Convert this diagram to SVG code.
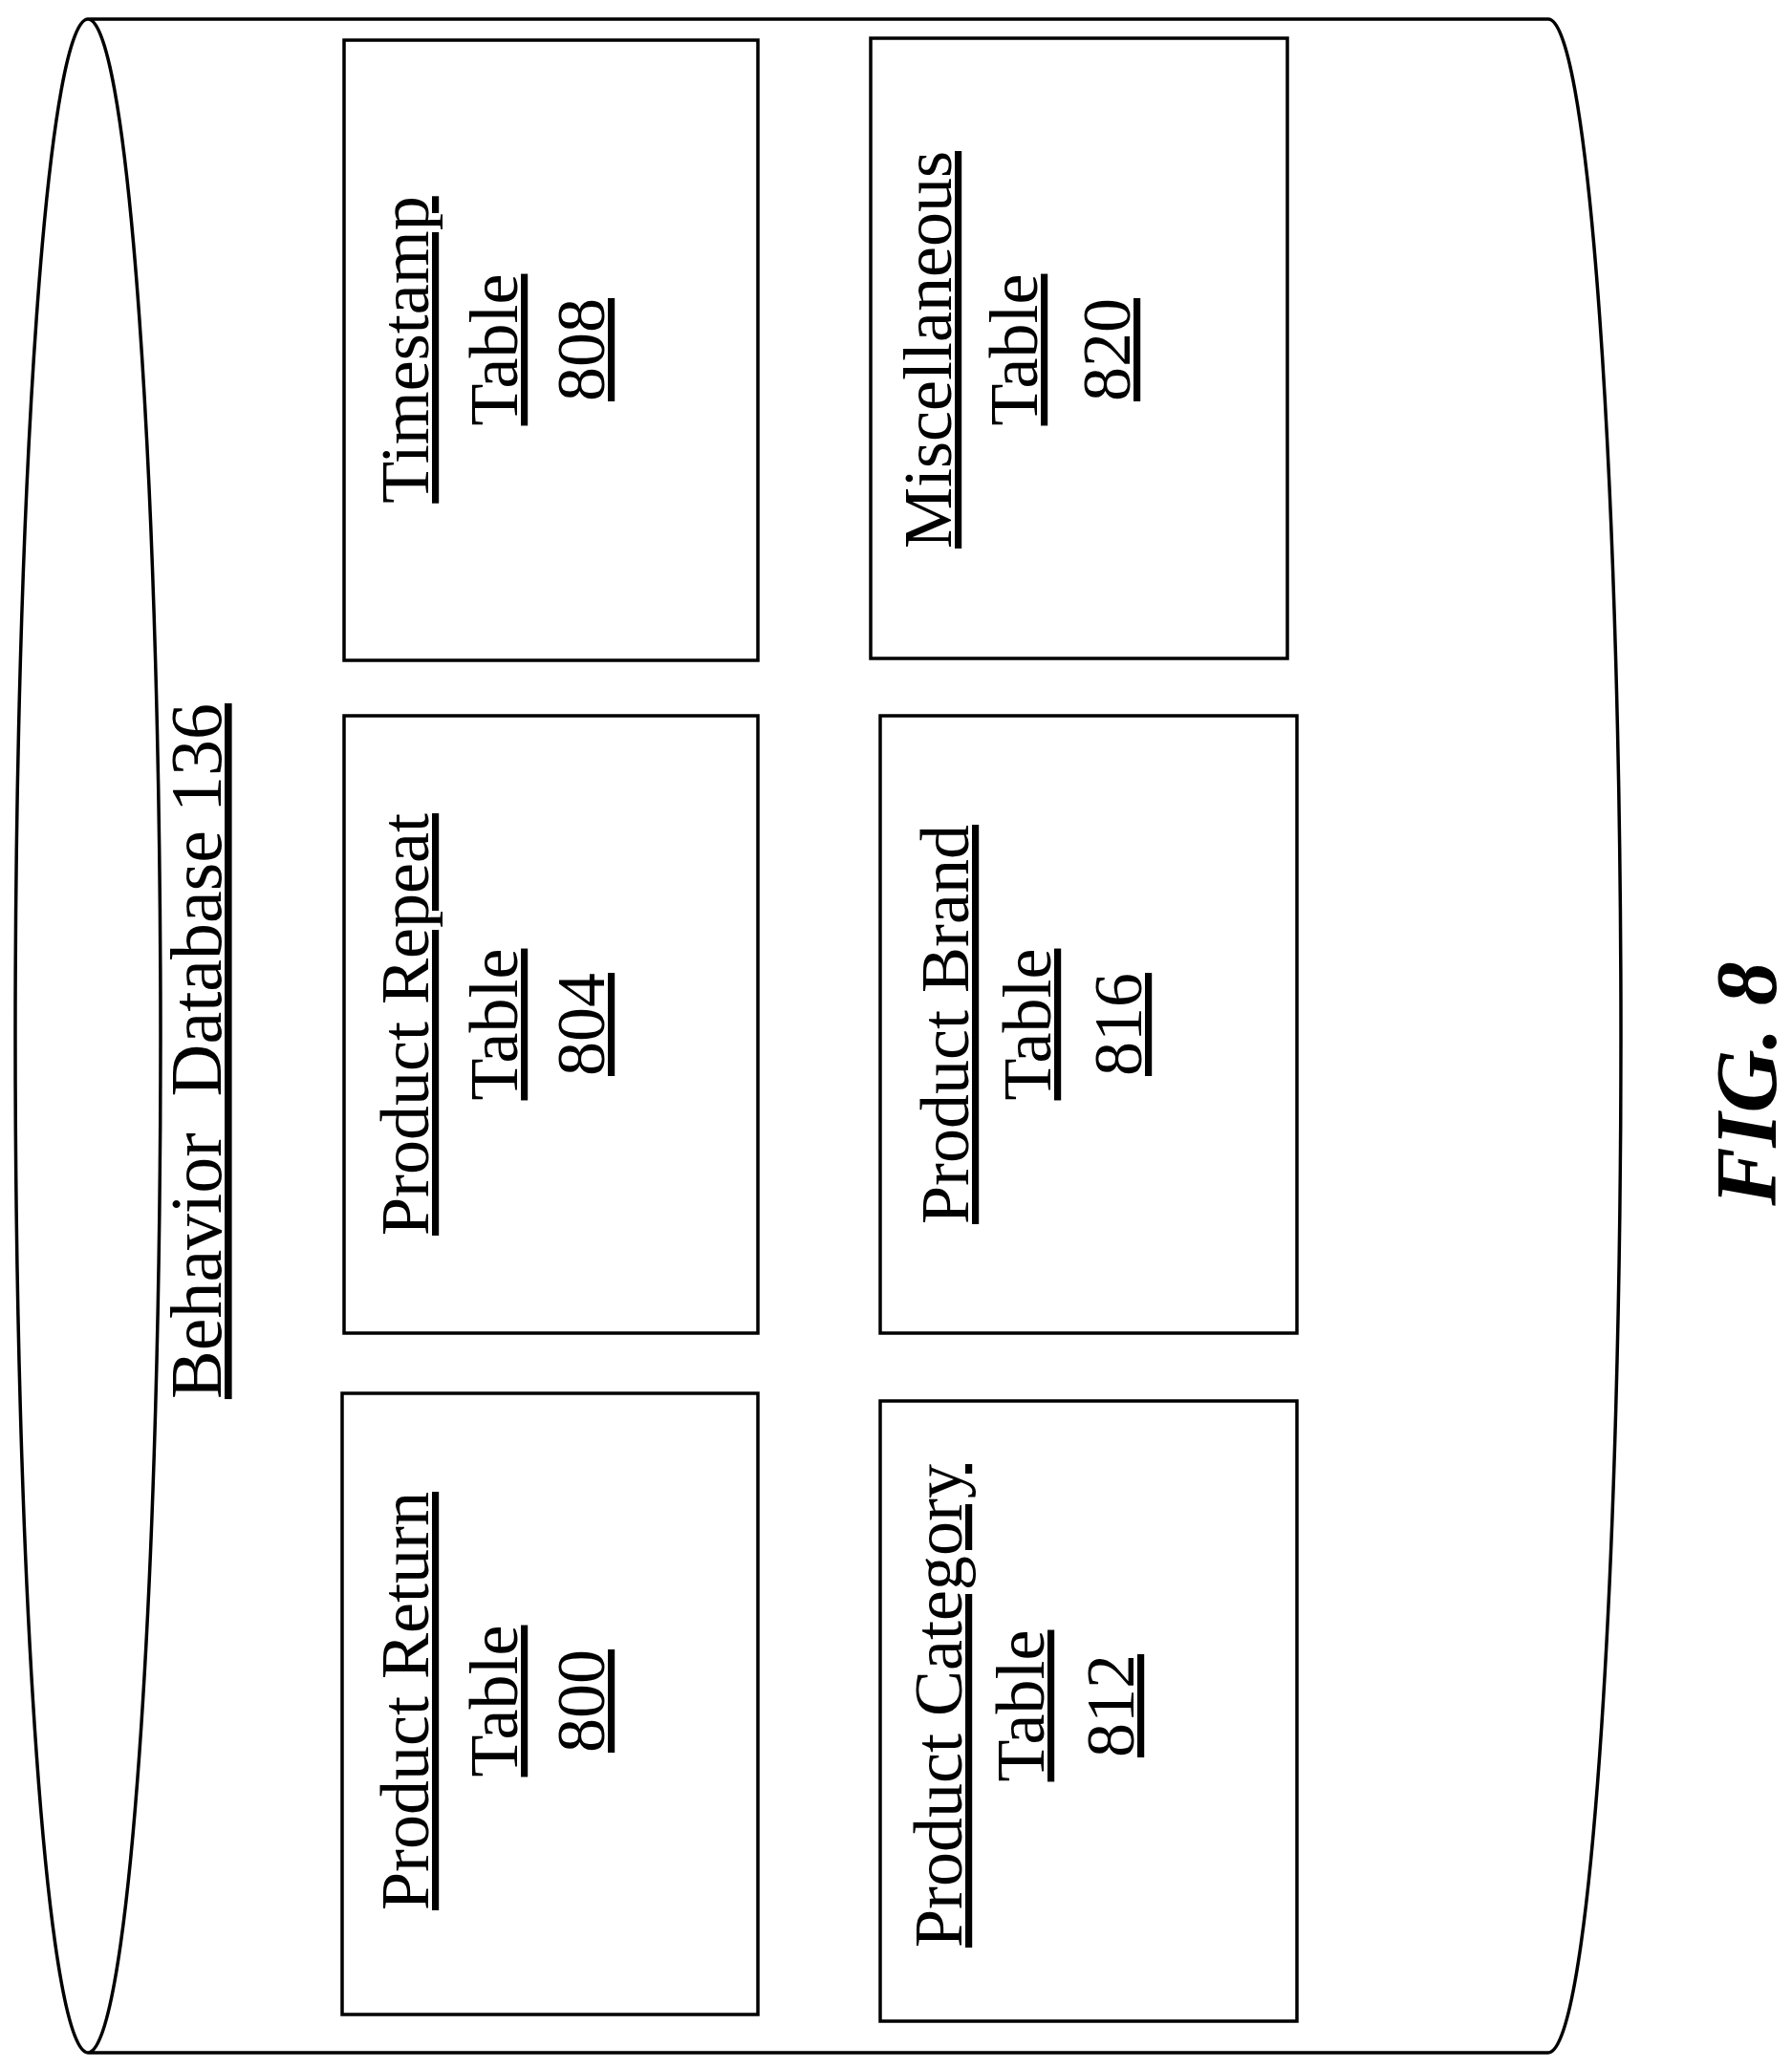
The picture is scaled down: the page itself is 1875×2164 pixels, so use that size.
<svg xmlns="http://www.w3.org/2000/svg" width="1875" height="2164" viewBox="0 0 1875 2164">
<style>
.s{fill:none;stroke:#000;stroke-width:3.5}
.t{font-family:"Liberation Serif","Times New Roman",serif;font-size:72px;fill:#000;text-anchor:middle;text-decoration:underline}
</style>
<rect width="1875" height="2164" fill="#fff"/>
<g id="database">
<path class="s" d="M92,20 H1620 A76,1064 0 0 1 1620,2148 H92 A76,1064 0 0 1 92,20 A76,1064 0 0 1 92,2148"/>
<text class="t" xml:space="preserve" style="font-size:76px" transform="translate(231,1100) rotate(-90)">Behavior  Database 136</text>
</g>
<g id="t808"><rect class="s" x="360" y="42" width="433" height="649"/>
<text class="t" transform="translate(448,366) rotate(-90)">Timestamp</text>
<text class="t" transform="translate(541,366) rotate(-90)">Table</text>
<text class="t" transform="translate(632,366) rotate(-90)">808</text></g>
<g id="t804"><rect class="s" x="360" y="749" width="433" height="646"/>
<text class="t" transform="translate(448,1072) rotate(-90)">Product Repeat</text>
<text class="t" transform="translate(541,1072) rotate(-90)">Table</text>
<text class="t" transform="translate(632,1072) rotate(-90)">804</text></g>
<g id="t800"><rect class="s" x="358" y="1458" width="435" height="650"/>
<text class="t" transform="translate(448,1780) rotate(-90)">Product Return</text>
<text class="t" transform="translate(541,1780) rotate(-90)">Table</text>
<text class="t" transform="translate(632,1780) rotate(-90)">800</text></g>
<g id="t820"><rect class="s" x="911" y="40" width="436" height="649"/>
<text class="t" transform="translate(995,366) rotate(-90)">Miscellaneous</text>
<text class="t" transform="translate(1085,366) rotate(-90)">Table</text>
<text class="t" transform="translate(1182,366) rotate(-90)">820</text></g>
<g id="t816"><rect class="s" x="921" y="749" width="436" height="646"/>
<text class="t" transform="translate(1013,1072) rotate(-90)">Product Brand</text>
<text class="t" transform="translate(1099,1072) rotate(-90)">Table</text>
<text class="t" transform="translate(1194,1072) rotate(-90)">816</text></g>
<g id="t812"><rect class="s" x="921" y="1466" width="436" height="649"/>
<text class="t" transform="translate(1006,1785) rotate(-90)">Product Category</text>
<text class="t" transform="translate(1092,1785) rotate(-90)">Table</text>
<text class="t" transform="translate(1186,1785) rotate(-90)">812</text></g>
<g id="connectors"></g>
<text font-family="Liberation Serif,serif" font-size="92" font-weight="bold" font-style="italic" text-anchor="middle" transform="translate(1858,1134) rotate(-90)">FIG. 8</text>
</svg>
